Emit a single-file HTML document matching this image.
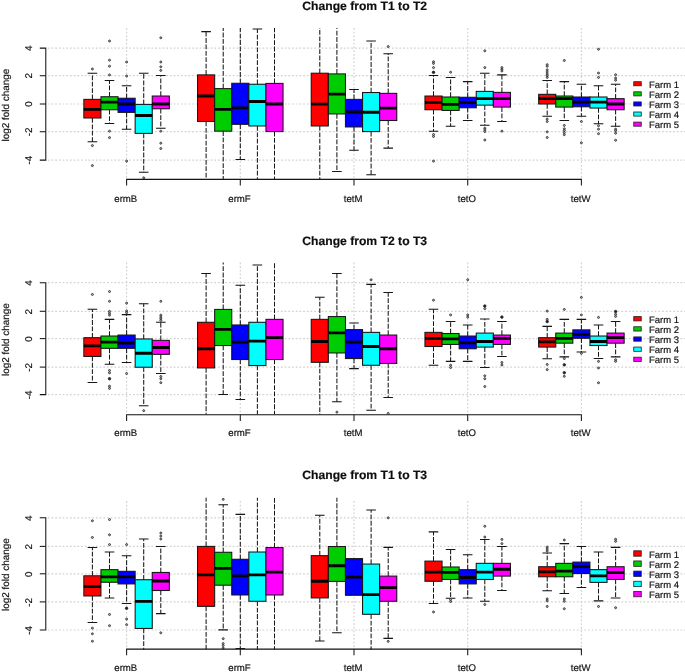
<!DOCTYPE html>
<html><head><meta charset="utf-8"><title>log2 fold change boxplots</title>
<style>
html,body{margin:0;padding:0;background:#fff;}
body{width:685px;height:672px;overflow:hidden;}
svg{display:block;will-change:transform;}
text{font-family:"Liberation Sans",sans-serif;fill:#111;stroke:#111;stroke-width:0.18px;text-rendering:geometricPrecision;}
</style></head><body>
<svg width="685" height="672" viewBox="0 0 685 672">
<rect width="685" height="672" fill="#fff"/>
<defs><filter id="soft" x="0" y="0" width="685" height="672" filterUnits="userSpaceOnUse"><feGaussianBlur stdDeviation="0.3"/></filter></defs>
<g filter="url(#soft)">
<defs><clipPath id="c0"><rect x="45.8" y="27.98" width="644.2" height="151.9"/></clipPath></defs>
<g id="panel1">
<text x="364.7" y="10.45" text-anchor="middle" font-size="12.15" font-weight="bold" stroke="none">Change from T1 to T2</text>
<g stroke="#d2d2d2" stroke-width="1.2" stroke-dasharray="1.8 1.9" fill="none">
<line x1="47.8" y1="160.1" x2="685" y2="160.1"/><line x1="47.8" y1="131.7" x2="685" y2="131.7"/><line x1="47.8" y1="104" x2="685" y2="104"/><line x1="47.8" y1="75.7" x2="685" y2="75.7"/><line x1="47.8" y1="48.1" x2="685" y2="48.1"/><line x1="126.6" y1="27.98" x2="126.6" y2="179.88"/><line x1="240.3" y1="27.98" x2="240.3" y2="179.88"/><line x1="354" y1="27.98" x2="354" y2="179.88"/><line x1="467.7" y1="27.98" x2="467.7" y2="179.88"/><line x1="581.4" y1="27.98" x2="581.4" y2="179.88"/>
</g>
<g clip-path="url(#c0)">
<line x1="92.4" y1="99.38" x2="92.4" y2="73.2" stroke="#151515" stroke-width="1.05" stroke-dasharray="4.8 1.6"/><line x1="87.61" y1="73.2" x2="97.19" y2="73.2" stroke="#151515" stroke-width="1.05"/><line x1="92.4" y1="118" x2="92.4" y2="141.8" stroke="#151515" stroke-width="1.05" stroke-dasharray="4.8 1.6"/><line x1="87.61" y1="141.8" x2="97.19" y2="141.8" stroke="#151515" stroke-width="1.05"/><rect x="83.85" y="99.38" width="17.1" height="18.62" fill="#FF0000" stroke="#151515" stroke-width="1.05"/><line x1="83.85" y1="109.46" x2="100.95" y2="109.46" stroke="#000" stroke-width="2.8"/><circle cx="92.4" cy="69" r="1.0" fill="#b4b4b4" stroke="#222" stroke-width="0.8"/><circle cx="92.4" cy="145.58" r="1.0" fill="#b4b4b4" stroke="#222" stroke-width="0.8"/><circle cx="92.4" cy="165.6" r="1.0" fill="#b4b4b4" stroke="#222" stroke-width="0.8"/>
<line x1="109.5" y1="96.72" x2="109.5" y2="80.48" stroke="#151515" stroke-width="1.05" stroke-dasharray="4.8 1.6"/><line x1="104.71" y1="80.48" x2="114.29" y2="80.48" stroke="#151515" stroke-width="1.05"/><line x1="109.5" y1="109.74" x2="109.5" y2="123.46" stroke="#151515" stroke-width="1.05" stroke-dasharray="4.8 1.6"/><line x1="104.71" y1="123.46" x2="114.29" y2="123.46" stroke="#151515" stroke-width="1.05"/><rect x="100.95" y="96.72" width="17.1" height="13.02" fill="#00CD00" stroke="#151515" stroke-width="1.05"/><line x1="100.95" y1="102.18" x2="118.05" y2="102.18" stroke="#000" stroke-width="2.8"/><circle cx="109.5" cy="41" r="1.0" fill="#b4b4b4" stroke="#222" stroke-width="0.8"/><circle cx="109.5" cy="60.18" r="1.0" fill="#b4b4b4" stroke="#222" stroke-width="0.8"/><circle cx="109.5" cy="66.2" r="1.0" fill="#b4b4b4" stroke="#222" stroke-width="0.8"/><circle cx="109.5" cy="74.88" r="1.0" fill="#b4b4b4" stroke="#222" stroke-width="0.8"/><circle cx="109.5" cy="131.16" r="1.0" fill="#b4b4b4" stroke="#222" stroke-width="0.8"/><circle cx="109.5" cy="137.6" r="1.0" fill="#b4b4b4" stroke="#222" stroke-width="0.8"/>
<line x1="126.6" y1="98.26" x2="126.6" y2="85.8" stroke="#151515" stroke-width="1.05" stroke-dasharray="4.8 1.6"/><line x1="121.81" y1="85.8" x2="131.39" y2="85.8" stroke="#151515" stroke-width="1.05"/><line x1="126.6" y1="112.4" x2="126.6" y2="129.2" stroke="#151515" stroke-width="1.05" stroke-dasharray="4.8 1.6"/><line x1="121.81" y1="129.2" x2="131.39" y2="129.2" stroke="#151515" stroke-width="1.05"/><rect x="118.05" y="98.26" width="17.1" height="14.14" fill="#0000FF" stroke="#151515" stroke-width="1.05"/><line x1="118.05" y1="104" x2="135.15" y2="104" stroke="#000" stroke-width="2.8"/><circle cx="126.6" cy="62" r="1.0" fill="#b4b4b4" stroke="#222" stroke-width="0.8"/><circle cx="126.6" cy="76" r="1.0" fill="#b4b4b4" stroke="#222" stroke-width="0.8"/><circle cx="126.6" cy="161.12" r="1.0" fill="#b4b4b4" stroke="#222" stroke-width="0.8"/>
<line x1="143.7" y1="104.42" x2="143.7" y2="73.2" stroke="#151515" stroke-width="1.05" stroke-dasharray="4.8 1.6"/><line x1="138.91" y1="73.2" x2="148.49" y2="73.2" stroke="#151515" stroke-width="1.05"/><line x1="143.7" y1="133.4" x2="143.7" y2="172.18" stroke="#151515" stroke-width="1.05" stroke-dasharray="4.8 1.6"/><line x1="138.91" y1="172.18" x2="148.49" y2="172.18" stroke="#151515" stroke-width="1.05"/><rect x="135.15" y="104.42" width="17.1" height="28.98" fill="#00FFFF" stroke="#151515" stroke-width="1.05"/><line x1="135.15" y1="115.48" x2="152.25" y2="115.48" stroke="#000" stroke-width="2.8"/><circle cx="143.7" cy="177.78" r="1.0" fill="#b4b4b4" stroke="#222" stroke-width="0.8"/>
<line x1="160.8" y1="96.02" x2="160.8" y2="75.58" stroke="#151515" stroke-width="1.05" stroke-dasharray="4.8 1.6"/><line x1="156.01" y1="75.58" x2="165.59" y2="75.58" stroke="#151515" stroke-width="1.05"/><line x1="160.8" y1="108.76" x2="160.8" y2="128.22" stroke="#151515" stroke-width="1.05" stroke-dasharray="4.8 1.6"/><line x1="156.01" y1="128.22" x2="165.59" y2="128.22" stroke="#151515" stroke-width="1.05"/><rect x="152.25" y="96.02" width="17.1" height="12.74" fill="#FF00FF" stroke="#151515" stroke-width="1.05"/><line x1="152.25" y1="104" x2="169.35" y2="104" stroke="#000" stroke-width="2.8"/><circle cx="160.8" cy="37.78" r="1.0" fill="#b4b4b4" stroke="#222" stroke-width="0.8"/><circle cx="160.8" cy="62" r="1.0" fill="#b4b4b4" stroke="#222" stroke-width="0.8"/><circle cx="160.8" cy="66.76" r="1.0" fill="#b4b4b4" stroke="#222" stroke-width="0.8"/><circle cx="160.8" cy="70.4" r="1.0" fill="#b4b4b4" stroke="#222" stroke-width="0.8"/><circle cx="160.8" cy="131.16" r="1.0" fill="#b4b4b4" stroke="#222" stroke-width="0.8"/><circle cx="160.8" cy="143.2" r="1.0" fill="#b4b4b4" stroke="#222" stroke-width="0.8"/><circle cx="160.8" cy="148.52" r="1.0" fill="#b4b4b4" stroke="#222" stroke-width="0.8"/>
<line x1="206.1" y1="74.88" x2="206.1" y2="31.62" stroke="#151515" stroke-width="1.05" stroke-dasharray="4.8 1.6"/><line x1="201.31" y1="31.62" x2="210.89" y2="31.62" stroke="#151515" stroke-width="1.05"/><line x1="206.1" y1="121.5" x2="206.1" y2="185.88" stroke="#151515" stroke-width="1.05" stroke-dasharray="4.8 1.6"/><rect x="197.55" y="74.88" width="17.1" height="46.62" fill="#FF0000" stroke="#151515" stroke-width="1.05"/><line x1="197.55" y1="96.02" x2="214.65" y2="96.02" stroke="#000" stroke-width="2.8"/>
<line x1="223.2" y1="88.6" x2="223.2" y2="21.98" stroke="#151515" stroke-width="1.05" stroke-dasharray="4.8 1.6"/><line x1="223.2" y1="131.16" x2="223.2" y2="185.88" stroke="#151515" stroke-width="1.05" stroke-dasharray="4.8 1.6"/><rect x="214.65" y="88.6" width="17.1" height="42.56" fill="#00CD00" stroke="#151515" stroke-width="1.05"/><line x1="214.65" y1="109.46" x2="231.75" y2="109.46" stroke="#000" stroke-width="2.8"/>
<line x1="240.3" y1="83.28" x2="240.3" y2="21.98" stroke="#151515" stroke-width="1.05" stroke-dasharray="4.8 1.6"/><line x1="240.3" y1="124.3" x2="240.3" y2="159.44" stroke="#151515" stroke-width="1.05" stroke-dasharray="4.8 1.6"/><line x1="235.51" y1="159.44" x2="245.09" y2="159.44" stroke="#151515" stroke-width="1.05"/><rect x="231.75" y="83.28" width="17.1" height="41.02" fill="#0000FF" stroke="#151515" stroke-width="1.05"/><line x1="231.75" y1="107.78" x2="248.85" y2="107.78" stroke="#000" stroke-width="2.8"/>
<line x1="257.4" y1="84.26" x2="257.4" y2="28.96" stroke="#151515" stroke-width="1.05" stroke-dasharray="4.8 1.6"/><line x1="252.61" y1="28.96" x2="262.19" y2="28.96" stroke="#151515" stroke-width="1.05"/><line x1="257.4" y1="125.98" x2="257.4" y2="185.88" stroke="#151515" stroke-width="1.05" stroke-dasharray="4.8 1.6"/><rect x="248.85" y="84.26" width="17.1" height="41.72" fill="#00FFFF" stroke="#151515" stroke-width="1.05"/><line x1="248.85" y1="101.48" x2="265.95" y2="101.48" stroke="#000" stroke-width="2.8"/>
<line x1="274.5" y1="83.42" x2="274.5" y2="21.98" stroke="#151515" stroke-width="1.05" stroke-dasharray="4.8 1.6"/><line x1="274.5" y1="131.58" x2="274.5" y2="185.88" stroke="#151515" stroke-width="1.05" stroke-dasharray="4.8 1.6"/><rect x="265.95" y="83.42" width="17.1" height="48.16" fill="#FF00FF" stroke="#151515" stroke-width="1.05"/><line x1="265.95" y1="104" x2="283.05" y2="104" stroke="#000" stroke-width="2.8"/>
<line x1="319.8" y1="73.2" x2="319.8" y2="21.98" stroke="#151515" stroke-width="1.05" stroke-dasharray="4.8 1.6"/><line x1="319.8" y1="125.98" x2="319.8" y2="185.88" stroke="#151515" stroke-width="1.05" stroke-dasharray="4.8 1.6"/><rect x="311.25" y="73.2" width="17.1" height="52.78" fill="#FF0000" stroke="#151515" stroke-width="1.05"/><line x1="311.25" y1="104.14" x2="328.35" y2="104.14" stroke="#000" stroke-width="2.8"/>
<line x1="336.9" y1="73.9" x2="336.9" y2="21.98" stroke="#151515" stroke-width="1.05" stroke-dasharray="4.8 1.6"/><line x1="336.9" y1="113.94" x2="336.9" y2="171.48" stroke="#151515" stroke-width="1.05" stroke-dasharray="4.8 1.6"/><line x1="332.11" y1="171.48" x2="341.69" y2="171.48" stroke="#151515" stroke-width="1.05"/><rect x="328.35" y="73.9" width="17.1" height="40.04" fill="#00CD00" stroke="#151515" stroke-width="1.05"/><line x1="328.35" y1="94.06" x2="345.45" y2="94.06" stroke="#000" stroke-width="2.8"/>
<line x1="354" y1="99.38" x2="354" y2="89.58" stroke="#151515" stroke-width="1.05" stroke-dasharray="4.8 1.6"/><line x1="349.21" y1="89.58" x2="358.79" y2="89.58" stroke="#151515" stroke-width="1.05"/><line x1="354" y1="126.96" x2="354" y2="150.2" stroke="#151515" stroke-width="1.05" stroke-dasharray="4.8 1.6"/><line x1="349.21" y1="150.2" x2="358.79" y2="150.2" stroke="#151515" stroke-width="1.05"/><rect x="345.45" y="99.38" width="17.1" height="27.58" fill="#0000FF" stroke="#151515" stroke-width="1.05"/><line x1="345.45" y1="111.98" x2="362.55" y2="111.98" stroke="#000" stroke-width="2.8"/>
<line x1="371.1" y1="92.52" x2="371.1" y2="41" stroke="#151515" stroke-width="1.05" stroke-dasharray="4.8 1.6"/><line x1="366.31" y1="41" x2="375.89" y2="41" stroke="#151515" stroke-width="1.05"/><line x1="371.1" y1="131.58" x2="371.1" y2="174.84" stroke="#151515" stroke-width="1.05" stroke-dasharray="4.8 1.6"/><line x1="366.31" y1="174.84" x2="375.89" y2="174.84" stroke="#151515" stroke-width="1.05"/><rect x="362.55" y="92.52" width="17.1" height="39.06" fill="#00FFFF" stroke="#151515" stroke-width="1.05"/><line x1="362.55" y1="112.26" x2="379.65" y2="112.26" stroke="#000" stroke-width="2.8"/>
<line x1="388.2" y1="93.36" x2="388.2" y2="53.74" stroke="#151515" stroke-width="1.05" stroke-dasharray="4.8 1.6"/><line x1="383.41" y1="53.74" x2="392.99" y2="53.74" stroke="#151515" stroke-width="1.05"/><line x1="388.2" y1="120.52" x2="388.2" y2="148.1" stroke="#151515" stroke-width="1.05" stroke-dasharray="4.8 1.6"/><line x1="383.41" y1="148.1" x2="392.99" y2="148.1" stroke="#151515" stroke-width="1.05"/><rect x="379.65" y="93.36" width="17.1" height="27.16" fill="#FF00FF" stroke="#151515" stroke-width="1.05"/><line x1="379.65" y1="108.06" x2="396.75" y2="108.06" stroke="#000" stroke-width="2.8"/><circle cx="388.2" cy="46.6" r="1.0" fill="#b4b4b4" stroke="#222" stroke-width="0.8"/>
<line x1="433.5" y1="96.02" x2="433.5" y2="75.58" stroke="#151515" stroke-width="1.05" stroke-dasharray="4.8 1.6"/><line x1="428.71" y1="75.58" x2="438.29" y2="75.58" stroke="#151515" stroke-width="1.05"/><line x1="433.5" y1="109.74" x2="433.5" y2="131.16" stroke="#151515" stroke-width="1.05" stroke-dasharray="4.8 1.6"/><line x1="428.71" y1="131.16" x2="438.29" y2="131.16" stroke="#151515" stroke-width="1.05"/><rect x="424.95" y="96.02" width="17.1" height="13.72" fill="#FF0000" stroke="#151515" stroke-width="1.05"/><line x1="424.95" y1="102.46" x2="442.05" y2="102.46" stroke="#000" stroke-width="2.8"/><circle cx="433.5" cy="61.72" r="1.0" fill="#b4b4b4" stroke="#222" stroke-width="0.8"/><circle cx="433.5" cy="63.4" r="1.0" fill="#b4b4b4" stroke="#222" stroke-width="0.8"/><circle cx="433.5" cy="67.6" r="1.0" fill="#b4b4b4" stroke="#222" stroke-width="0.8"/><circle cx="433.5" cy="72.36" r="1.25" fill="#222" stroke="#222" stroke-width="0.8"/><circle cx="433.5" cy="134.52" r="1.0" fill="#b4b4b4" stroke="#222" stroke-width="0.8"/><circle cx="433.5" cy="136.48" r="1.0" fill="#b4b4b4" stroke="#222" stroke-width="0.8"/><circle cx="433.5" cy="161.12" r="1.0" fill="#b4b4b4" stroke="#222" stroke-width="0.8"/>
<line x1="450.6" y1="97" x2="450.6" y2="77.4" stroke="#151515" stroke-width="1.05" stroke-dasharray="4.8 1.6"/><line x1="445.81" y1="77.4" x2="455.39" y2="77.4" stroke="#151515" stroke-width="1.05"/><line x1="450.6" y1="110.44" x2="450.6" y2="126.26" stroke="#151515" stroke-width="1.05" stroke-dasharray="4.8 1.6"/><line x1="445.81" y1="126.26" x2="455.39" y2="126.26" stroke="#151515" stroke-width="1.05"/><rect x="442.05" y="97" width="17.1" height="13.44" fill="#00CD00" stroke="#151515" stroke-width="1.05"/><line x1="442.05" y1="104.42" x2="459.15" y2="104.42" stroke="#000" stroke-width="2.8"/><circle cx="450.6" cy="72.22" r="1.0" fill="#b4b4b4" stroke="#222" stroke-width="0.8"/>
<line x1="467.7" y1="97.28" x2="467.7" y2="81.6" stroke="#151515" stroke-width="1.05" stroke-dasharray="4.8 1.6"/><line x1="462.91" y1="81.6" x2="472.49" y2="81.6" stroke="#151515" stroke-width="1.05"/><line x1="467.7" y1="107.78" x2="467.7" y2="120.52" stroke="#151515" stroke-width="1.05" stroke-dasharray="4.8 1.6"/><line x1="462.91" y1="120.52" x2="472.49" y2="120.52" stroke="#151515" stroke-width="1.05"/><rect x="459.15" y="97.28" width="17.1" height="10.5" fill="#0000FF" stroke="#151515" stroke-width="1.05"/><line x1="459.15" y1="102.46" x2="476.25" y2="102.46" stroke="#000" stroke-width="2.8"/>
<line x1="484.8" y1="91.4" x2="484.8" y2="73.2" stroke="#151515" stroke-width="1.05" stroke-dasharray="4.8 1.6"/><line x1="480.01" y1="73.2" x2="489.59" y2="73.2" stroke="#151515" stroke-width="1.05"/><line x1="484.8" y1="105.12" x2="484.8" y2="125.28" stroke="#151515" stroke-width="1.05" stroke-dasharray="4.8 1.6"/><line x1="480.01" y1="125.28" x2="489.59" y2="125.28" stroke="#151515" stroke-width="1.05"/><rect x="476.25" y="91.4" width="17.1" height="13.72" fill="#00FFFF" stroke="#151515" stroke-width="1.05"/><line x1="476.25" y1="98.68" x2="493.35" y2="98.68" stroke="#000" stroke-width="2.8"/><circle cx="484.8" cy="50.8" r="1.0" fill="#b4b4b4" stroke="#222" stroke-width="0.8"/><circle cx="484.8" cy="67.6" r="1.0" fill="#b4b4b4" stroke="#222" stroke-width="0.8"/><circle cx="484.8" cy="128.22" r="1.0" fill="#b4b4b4" stroke="#222" stroke-width="0.8"/><circle cx="484.8" cy="129.9" r="1.0" fill="#b4b4b4" stroke="#222" stroke-width="0.8"/><circle cx="484.8" cy="131.58" r="1.0" fill="#b4b4b4" stroke="#222" stroke-width="0.8"/><circle cx="484.8" cy="139.98" r="1.0" fill="#b4b4b4" stroke="#222" stroke-width="0.8"/>
<line x1="501.9" y1="92.38" x2="501.9" y2="74.88" stroke="#151515" stroke-width="1.05" stroke-dasharray="4.8 1.6"/><line x1="497.11" y1="74.88" x2="506.69" y2="74.88" stroke="#151515" stroke-width="1.05"/><line x1="501.9" y1="107.08" x2="501.9" y2="121.5" stroke="#151515" stroke-width="1.05" stroke-dasharray="4.8 1.6"/><line x1="497.11" y1="121.5" x2="506.69" y2="121.5" stroke="#151515" stroke-width="1.05"/><rect x="493.35" y="92.38" width="17.1" height="14.7" fill="#FF00FF" stroke="#151515" stroke-width="1.05"/><line x1="493.35" y1="98.68" x2="510.45" y2="98.68" stroke="#000" stroke-width="2.8"/><circle cx="501.9" cy="67.6" r="1.0" fill="#b4b4b4" stroke="#222" stroke-width="0.8"/><circle cx="501.9" cy="69.28" r="1.0" fill="#b4b4b4" stroke="#222" stroke-width="0.8"/><circle cx="501.9" cy="70.96" r="1.0" fill="#b4b4b4" stroke="#222" stroke-width="0.8"/><circle cx="501.9" cy="131.16" r="1.0" fill="#b4b4b4" stroke="#222" stroke-width="0.8"/>
<line x1="547.2" y1="94.34" x2="547.2" y2="80.48" stroke="#151515" stroke-width="1.05" stroke-dasharray="4.8 1.6"/><line x1="542.41" y1="80.48" x2="551.99" y2="80.48" stroke="#151515" stroke-width="1.05"/><line x1="547.2" y1="104" x2="547.2" y2="116.18" stroke="#151515" stroke-width="1.05" stroke-dasharray="4.8 1.6"/><line x1="542.41" y1="116.18" x2="551.99" y2="116.18" stroke="#151515" stroke-width="1.05"/><rect x="538.65" y="94.34" width="17.1" height="9.66" fill="#FF0000" stroke="#151515" stroke-width="1.05"/><line x1="538.65" y1="98.68" x2="555.75" y2="98.68" stroke="#000" stroke-width="2.8"/><circle cx="547.2" cy="64.66" r="1.0" fill="#b4b4b4" stroke="#222" stroke-width="0.8"/><circle cx="547.2" cy="66.34" r="1.0" fill="#b4b4b4" stroke="#222" stroke-width="0.8"/><circle cx="547.2" cy="69.84" r="1.0" fill="#b4b4b4" stroke="#222" stroke-width="0.8"/><circle cx="547.2" cy="71.94" r="1.0" fill="#b4b4b4" stroke="#222" stroke-width="0.8"/><circle cx="547.2" cy="74.04" r="1.0" fill="#b4b4b4" stroke="#222" stroke-width="0.8"/><circle cx="547.2" cy="75.72" r="1.0" fill="#b4b4b4" stroke="#222" stroke-width="0.8"/><circle cx="547.2" cy="77.4" r="1.0" fill="#b4b4b4" stroke="#222" stroke-width="0.8"/><circle cx="547.2" cy="119.12" r="1.0" fill="#b4b4b4" stroke="#222" stroke-width="0.8"/><circle cx="547.2" cy="121.5" r="1.0" fill="#b4b4b4" stroke="#222" stroke-width="0.8"/><circle cx="547.2" cy="131.86" r="1.0" fill="#b4b4b4" stroke="#222" stroke-width="0.8"/><circle cx="547.2" cy="137.46" r="1.0" fill="#b4b4b4" stroke="#222" stroke-width="0.8"/>
<line x1="564.3" y1="96.02" x2="564.3" y2="81.6" stroke="#151515" stroke-width="1.05" stroke-dasharray="4.8 1.6"/><line x1="559.51" y1="81.6" x2="569.09" y2="81.6" stroke="#151515" stroke-width="1.05"/><line x1="564.3" y1="107.08" x2="564.3" y2="120.52" stroke="#151515" stroke-width="1.05" stroke-dasharray="4.8 1.6"/><line x1="559.51" y1="120.52" x2="569.09" y2="120.52" stroke="#151515" stroke-width="1.05"/><rect x="555.75" y="96.02" width="17.1" height="11.06" fill="#00CD00" stroke="#151515" stroke-width="1.05"/><line x1="555.75" y1="98.68" x2="572.85" y2="98.68" stroke="#000" stroke-width="2.8"/><circle cx="564.3" cy="60.46" r="1.0" fill="#b4b4b4" stroke="#222" stroke-width="0.8"/><circle cx="564.3" cy="125.42" r="1.0" fill="#b4b4b4" stroke="#222" stroke-width="0.8"/><circle cx="564.3" cy="128.78" r="1.0" fill="#b4b4b4" stroke="#222" stroke-width="0.8"/><circle cx="564.3" cy="130.46" r="1.0" fill="#b4b4b4" stroke="#222" stroke-width="0.8"/><circle cx="564.3" cy="132.56" r="1.0" fill="#b4b4b4" stroke="#222" stroke-width="0.8"/><circle cx="564.3" cy="134.66" r="1.0" fill="#b4b4b4" stroke="#222" stroke-width="0.8"/>
<line x1="581.4" y1="97" x2="581.4" y2="84.26" stroke="#151515" stroke-width="1.05" stroke-dasharray="4.8 1.6"/><line x1="576.61" y1="84.26" x2="586.19" y2="84.26" stroke="#151515" stroke-width="1.05"/><line x1="581.4" y1="106.8" x2="581.4" y2="116.18" stroke="#151515" stroke-width="1.05" stroke-dasharray="4.8 1.6"/><line x1="576.61" y1="116.18" x2="586.19" y2="116.18" stroke="#151515" stroke-width="1.05"/><rect x="572.85" y="97" width="17.1" height="9.8" fill="#0000FF" stroke="#151515" stroke-width="1.05"/><line x1="572.85" y1="102.18" x2="589.95" y2="102.18" stroke="#000" stroke-width="2.8"/><circle cx="581.4" cy="121.5" r="1.0" fill="#b4b4b4" stroke="#222" stroke-width="0.8"/><circle cx="581.4" cy="142.78" r="1.0" fill="#b4b4b4" stroke="#222" stroke-width="0.8"/>
<line x1="598.5" y1="97" x2="598.5" y2="85.8" stroke="#151515" stroke-width="1.05" stroke-dasharray="4.8 1.6"/><line x1="593.71" y1="85.8" x2="603.29" y2="85.8" stroke="#151515" stroke-width="1.05"/><line x1="598.5" y1="108.06" x2="598.5" y2="123.74" stroke="#151515" stroke-width="1.05" stroke-dasharray="4.8 1.6"/><line x1="593.71" y1="123.74" x2="603.29" y2="123.74" stroke="#151515" stroke-width="1.05"/><rect x="589.95" y="97" width="17.1" height="11.06" fill="#00FFFF" stroke="#151515" stroke-width="1.05"/><line x1="589.95" y1="102.18" x2="607.05" y2="102.18" stroke="#000" stroke-width="2.8"/><circle cx="598.5" cy="49.26" r="1.0" fill="#b4b4b4" stroke="#222" stroke-width="0.8"/><circle cx="598.5" cy="73.06" r="1.0" fill="#b4b4b4" stroke="#222" stroke-width="0.8"/><circle cx="598.5" cy="77.4" r="1.0" fill="#b4b4b4" stroke="#222" stroke-width="0.8"/><circle cx="598.5" cy="125.7" r="1.0" fill="#b4b4b4" stroke="#222" stroke-width="0.8"/><circle cx="598.5" cy="129.2" r="1.0" fill="#b4b4b4" stroke="#222" stroke-width="0.8"/><circle cx="598.5" cy="133.68" r="1.0" fill="#b4b4b4" stroke="#222" stroke-width="0.8"/>
<line x1="615.6" y1="98.68" x2="615.6" y2="84.26" stroke="#151515" stroke-width="1.05" stroke-dasharray="4.8 1.6"/><line x1="610.81" y1="84.26" x2="620.39" y2="84.26" stroke="#151515" stroke-width="1.05"/><line x1="615.6" y1="109.74" x2="615.6" y2="126.26" stroke="#151515" stroke-width="1.05" stroke-dasharray="4.8 1.6"/><line x1="610.81" y1="126.26" x2="620.39" y2="126.26" stroke="#151515" stroke-width="1.05"/><rect x="607.05" y="98.68" width="17.1" height="11.06" fill="#FF00FF" stroke="#151515" stroke-width="1.05"/><line x1="607.05" y1="104" x2="624.15" y2="104" stroke="#000" stroke-width="2.8"/><circle cx="615.6" cy="74.74" r="1.0" fill="#b4b4b4" stroke="#222" stroke-width="0.8"/><circle cx="615.6" cy="78.1" r="1.0" fill="#b4b4b4" stroke="#222" stroke-width="0.8"/><circle cx="615.6" cy="80.2" r="1.0" fill="#b4b4b4" stroke="#222" stroke-width="0.8"/><circle cx="615.6" cy="129.2" r="1.0" fill="#b4b4b4" stroke="#222" stroke-width="0.8"/><circle cx="615.6" cy="130.74" r="1.0" fill="#b4b4b4" stroke="#222" stroke-width="0.8"/><circle cx="615.6" cy="133.26" r="1.0" fill="#b4b4b4" stroke="#222" stroke-width="0.8"/><circle cx="615.6" cy="140.26" r="1.0" fill="#b4b4b4" stroke="#222" stroke-width="0.8"/>
</g>
<g stroke="#151515" stroke-width="1.05" fill="none">
<path d="M39.8 48.1 H45.8 V160.1 H39.8"/><line x1="39.8" y1="131.7" x2="45.8" y2="131.7"/><line x1="39.8" y1="104" x2="45.8" y2="104"/><line x1="39.8" y1="75.7" x2="45.8" y2="75.7"/><path d="M126.6 185.55 V179.35 H581.4 V185.55"/><line x1="240.3" y1="179.35" x2="240.3" y2="185.55"/><line x1="354" y1="179.35" x2="354" y2="185.55"/><line x1="467.7" y1="179.35" x2="467.7" y2="185.55"/>
</g>
<text transform="translate(31.6 160.2) rotate(-90)" text-anchor="middle" font-size="9.8">-4</text><text transform="translate(31.6 131.8) rotate(-90)" text-anchor="middle" font-size="9.8">-2</text><text transform="translate(31.6 104.1) rotate(-90)" text-anchor="middle" font-size="9.8">0</text><text transform="translate(31.6 75.8) rotate(-90)" text-anchor="middle" font-size="9.8">2</text><text transform="translate(31.6 48.2) rotate(-90)" text-anchor="middle" font-size="9.8">4</text>
<text transform="translate(8.9 105.1) rotate(-90)" text-anchor="middle" font-size="9.93">log2 fold change</text>
<text x="125.8" y="201.6" text-anchor="middle" font-size="9.6">ermB</text><text x="239.5" y="201.6" text-anchor="middle" font-size="9.6">ermF</text><text x="353.2" y="201.6" text-anchor="middle" font-size="9.6">tetM</text><text x="466.9" y="201.6" text-anchor="middle" font-size="9.6">tetO</text><text x="580.6" y="201.6" text-anchor="middle" font-size="9.6">tetW</text>
<rect x="633.75" y="81.7" width="7.5" height="4.1" fill="#FF0000" stroke="#222" stroke-width="0.8"/><text x="649.0" y="87.85" font-size="9.5">Farm 1</text><rect x="633.75" y="91.8" width="7.5" height="4.1" fill="#00CD00" stroke="#222" stroke-width="0.8"/><text x="649.0" y="97.97" font-size="9.5">Farm 2</text><rect x="633.75" y="101.9" width="7.5" height="4.1" fill="#0000FF" stroke="#222" stroke-width="0.8"/><text x="649.0" y="108.09" font-size="9.5">Farm 3</text><rect x="633.75" y="112" width="7.5" height="4.1" fill="#00FFFF" stroke="#222" stroke-width="0.8"/><text x="649.0" y="118.21" font-size="9.5">Farm 4</text><rect x="633.75" y="122.1" width="7.5" height="4.1" fill="#FF00FF" stroke="#222" stroke-width="0.8"/><text x="649.0" y="128.33" font-size="9.5">Farm 5</text>
</g>
<defs><clipPath id="c1"><rect x="45.8" y="262.38" width="644.2" height="151.9"/></clipPath></defs>
<g id="panel2">
<text x="364.7" y="245" text-anchor="middle" font-size="12.15" font-weight="bold" stroke="none">Change from T2 to T3</text>
<g stroke="#d2d2d2" stroke-width="1.2" stroke-dasharray="1.8 1.9" fill="none">
<line x1="47.8" y1="394.6" x2="685" y2="394.6"/><line x1="47.8" y1="367.1" x2="685" y2="367.1"/><line x1="47.8" y1="338.6" x2="685" y2="338.6"/><line x1="47.8" y1="311.3" x2="685" y2="311.3"/><line x1="47.8" y1="282.7" x2="685" y2="282.7"/><line x1="126.6" y1="262.38" x2="126.6" y2="414.28"/><line x1="240.3" y1="262.38" x2="240.3" y2="414.28"/><line x1="354" y1="262.38" x2="354" y2="414.28"/><line x1="467.7" y1="262.38" x2="467.7" y2="414.28"/><line x1="581.4" y1="262.38" x2="581.4" y2="414.28"/>
</g>
<g clip-path="url(#c1)">
<line x1="92.4" y1="337.7" x2="92.4" y2="309.28" stroke="#151515" stroke-width="1.05" stroke-dasharray="4.8 1.6"/><line x1="87.61" y1="309.28" x2="97.19" y2="309.28" stroke="#151515" stroke-width="1.05"/><line x1="92.4" y1="356.46" x2="92.4" y2="382.5" stroke="#151515" stroke-width="1.05" stroke-dasharray="4.8 1.6"/><line x1="87.61" y1="382.5" x2="97.19" y2="382.5" stroke="#151515" stroke-width="1.05"/><rect x="83.85" y="337.7" width="17.1" height="18.76" fill="#FF0000" stroke="#151515" stroke-width="1.05"/><line x1="83.85" y1="345.82" x2="100.95" y2="345.82" stroke="#000" stroke-width="2.8"/><circle cx="92.4" cy="294.44" r="1.0" fill="#b4b4b4" stroke="#222" stroke-width="0.8"/>
<line x1="109.5" y1="336.02" x2="109.5" y2="319.36" stroke="#151515" stroke-width="1.05" stroke-dasharray="4.8 1.6"/><line x1="104.71" y1="319.36" x2="114.29" y2="319.36" stroke="#151515" stroke-width="1.05"/><line x1="109.5" y1="348.34" x2="109.5" y2="364.3" stroke="#151515" stroke-width="1.05" stroke-dasharray="4.8 1.6"/><line x1="104.71" y1="364.3" x2="114.29" y2="364.3" stroke="#151515" stroke-width="1.05"/><rect x="100.95" y="336.02" width="17.1" height="12.32" fill="#00CD00" stroke="#151515" stroke-width="1.05"/><line x1="100.95" y1="342.18" x2="118.05" y2="342.18" stroke="#000" stroke-width="2.8"/><circle cx="109.5" cy="291.5" r="1.0" fill="#b4b4b4" stroke="#222" stroke-width="0.8"/><circle cx="109.5" cy="301.3" r="1.0" fill="#b4b4b4" stroke="#222" stroke-width="0.8"/><circle cx="109.5" cy="311.38" r="1.0" fill="#b4b4b4" stroke="#222" stroke-width="0.8"/><circle cx="109.5" cy="313.34" r="1.0" fill="#b4b4b4" stroke="#222" stroke-width="0.8"/><circle cx="109.5" cy="315.16" r="1.0" fill="#b4b4b4" stroke="#222" stroke-width="0.8"/><circle cx="109.5" cy="370.46" r="1.0" fill="#b4b4b4" stroke="#222" stroke-width="0.8"/><circle cx="109.5" cy="372.84" r="1.0" fill="#b4b4b4" stroke="#222" stroke-width="0.8"/><circle cx="109.5" cy="378.72" r="1.25" fill="#222" stroke="#222" stroke-width="0.8"/><circle cx="109.5" cy="386.14" r="1.0" fill="#b4b4b4" stroke="#222" stroke-width="0.8"/><circle cx="109.5" cy="388.38" r="1.0" fill="#b4b4b4" stroke="#222" stroke-width="0.8"/>
<line x1="126.6" y1="335.04" x2="126.6" y2="314.6" stroke="#151515" stroke-width="1.05" stroke-dasharray="4.8 1.6"/><line x1="121.81" y1="314.6" x2="131.39" y2="314.6" stroke="#151515" stroke-width="1.05"/><line x1="126.6" y1="348.34" x2="126.6" y2="362.48" stroke="#151515" stroke-width="1.05" stroke-dasharray="4.8 1.6"/><line x1="121.81" y1="362.48" x2="131.39" y2="362.48" stroke="#151515" stroke-width="1.05"/><rect x="118.05" y="335.04" width="17.1" height="13.3" fill="#0000FF" stroke="#151515" stroke-width="1.05"/><line x1="118.05" y1="343.16" x2="135.15" y2="343.16" stroke="#000" stroke-width="2.8"/><circle cx="126.6" cy="303.12" r="1.0" fill="#b4b4b4" stroke="#222" stroke-width="0.8"/><circle cx="126.6" cy="310.96" r="1.0" fill="#b4b4b4" stroke="#222" stroke-width="0.8"/><circle cx="126.6" cy="312.64" r="1.0" fill="#b4b4b4" stroke="#222" stroke-width="0.8"/><circle cx="126.6" cy="373.54" r="1.0" fill="#b4b4b4" stroke="#222" stroke-width="0.8"/>
<line x1="143.7" y1="338.96" x2="143.7" y2="303.82" stroke="#151515" stroke-width="1.05" stroke-dasharray="4.8 1.6"/><line x1="138.91" y1="303.82" x2="148.49" y2="303.82" stroke="#151515" stroke-width="1.05"/><line x1="143.7" y1="367.24" x2="143.7" y2="405.74" stroke="#151515" stroke-width="1.05" stroke-dasharray="4.8 1.6"/><line x1="138.91" y1="405.74" x2="148.49" y2="405.74" stroke="#151515" stroke-width="1.05"/><rect x="135.15" y="338.96" width="17.1" height="28.28" fill="#00FFFF" stroke="#151515" stroke-width="1.05"/><line x1="135.15" y1="353.24" x2="152.25" y2="353.24" stroke="#000" stroke-width="2.8"/><circle cx="143.7" cy="410.64" r="1.0" fill="#b4b4b4" stroke="#222" stroke-width="0.8"/>
<line x1="160.8" y1="340.36" x2="160.8" y2="322.3" stroke="#151515" stroke-width="1.05" stroke-dasharray="4.8 1.6"/><line x1="156.01" y1="322.3" x2="165.59" y2="322.3" stroke="#151515" stroke-width="1.05"/><line x1="160.8" y1="354.36" x2="160.8" y2="373.54" stroke="#151515" stroke-width="1.05" stroke-dasharray="4.8 1.6"/><line x1="156.01" y1="373.54" x2="165.59" y2="373.54" stroke="#151515" stroke-width="1.05"/><rect x="152.25" y="340.36" width="17.1" height="14" fill="#FF00FF" stroke="#151515" stroke-width="1.05"/><line x1="152.25" y1="347.5" x2="169.35" y2="347.5" stroke="#000" stroke-width="2.8"/><circle cx="160.8" cy="301.3" r="1.0" fill="#b4b4b4" stroke="#222" stroke-width="0.8"/><circle cx="160.8" cy="315.16" r="1.0" fill="#b4b4b4" stroke="#222" stroke-width="0.8"/><circle cx="160.8" cy="317.12" r="1.0" fill="#b4b4b4" stroke="#222" stroke-width="0.8"/><circle cx="160.8" cy="318.8" r="1.0" fill="#b4b4b4" stroke="#222" stroke-width="0.8"/><circle cx="160.8" cy="320.48" r="1.0" fill="#b4b4b4" stroke="#222" stroke-width="0.8"/><circle cx="160.8" cy="376.48" r="1.0" fill="#b4b4b4" stroke="#222" stroke-width="0.8"/><circle cx="160.8" cy="378.72" r="1.0" fill="#b4b4b4" stroke="#222" stroke-width="0.8"/><circle cx="160.8" cy="382.64" r="1.0" fill="#b4b4b4" stroke="#222" stroke-width="0.8"/>
<line x1="206.1" y1="322.3" x2="206.1" y2="273.58" stroke="#151515" stroke-width="1.05" stroke-dasharray="4.8 1.6"/><line x1="201.31" y1="273.58" x2="210.89" y2="273.58" stroke="#151515" stroke-width="1.05"/><line x1="206.1" y1="367.94" x2="206.1" y2="420.28" stroke="#151515" stroke-width="1.05" stroke-dasharray="4.8 1.6"/><rect x="197.55" y="322.3" width="17.1" height="45.64" fill="#FF0000" stroke="#151515" stroke-width="1.05"/><line x1="197.55" y1="348.76" x2="214.65" y2="348.76" stroke="#000" stroke-width="2.8"/>
<line x1="223.2" y1="309.42" x2="223.2" y2="256.38" stroke="#151515" stroke-width="1.05" stroke-dasharray="4.8 1.6"/><line x1="223.2" y1="345.54" x2="223.2" y2="394.4" stroke="#151515" stroke-width="1.05" stroke-dasharray="4.8 1.6"/><line x1="218.41" y1="394.4" x2="227.99" y2="394.4" stroke="#151515" stroke-width="1.05"/><rect x="214.65" y="309.42" width="17.1" height="36.12" fill="#00CD00" stroke="#151515" stroke-width="1.05"/><line x1="214.65" y1="329.44" x2="231.75" y2="329.44" stroke="#000" stroke-width="2.8"/>
<line x1="240.3" y1="324.96" x2="240.3" y2="285.2" stroke="#151515" stroke-width="1.05" stroke-dasharray="4.8 1.6"/><line x1="235.51" y1="285.2" x2="245.09" y2="285.2" stroke="#151515" stroke-width="1.05"/><line x1="240.3" y1="359.54" x2="240.3" y2="399.44" stroke="#151515" stroke-width="1.05" stroke-dasharray="4.8 1.6"/><line x1="235.51" y1="399.44" x2="245.09" y2="399.44" stroke="#151515" stroke-width="1.05"/><rect x="231.75" y="324.96" width="17.1" height="34.58" fill="#0000FF" stroke="#151515" stroke-width="1.05"/><line x1="231.75" y1="342.18" x2="248.85" y2="342.18" stroke="#000" stroke-width="2.8"/>
<line x1="257.4" y1="322.3" x2="257.4" y2="265.04" stroke="#151515" stroke-width="1.05" stroke-dasharray="4.8 1.6"/><line x1="252.61" y1="265.04" x2="262.19" y2="265.04" stroke="#151515" stroke-width="1.05"/><line x1="257.4" y1="365.56" x2="257.4" y2="420.28" stroke="#151515" stroke-width="1.05" stroke-dasharray="4.8 1.6"/><rect x="248.85" y="322.3" width="17.1" height="43.26" fill="#00FFFF" stroke="#151515" stroke-width="1.05"/><line x1="248.85" y1="341.2" x2="265.95" y2="341.2" stroke="#000" stroke-width="2.8"/>
<line x1="274.5" y1="319.36" x2="274.5" y2="256.38" stroke="#151515" stroke-width="1.05" stroke-dasharray="4.8 1.6"/><line x1="274.5" y1="359.54" x2="274.5" y2="420.28" stroke="#151515" stroke-width="1.05" stroke-dasharray="4.8 1.6"/><rect x="265.95" y="319.36" width="17.1" height="40.18" fill="#FF00FF" stroke="#151515" stroke-width="1.05"/><line x1="265.95" y1="337.7" x2="283.05" y2="337.7" stroke="#000" stroke-width="2.8"/>
<line x1="319.8" y1="319.36" x2="319.8" y2="297.24" stroke="#151515" stroke-width="1.05" stroke-dasharray="4.8 1.6"/><line x1="315.01" y1="297.24" x2="324.59" y2="297.24" stroke="#151515" stroke-width="1.05"/><line x1="319.8" y1="362.34" x2="319.8" y2="420.28" stroke="#151515" stroke-width="1.05" stroke-dasharray="4.8 1.6"/><rect x="311.25" y="319.36" width="17.1" height="42.98" fill="#FF0000" stroke="#151515" stroke-width="1.05"/><line x1="311.25" y1="341.48" x2="328.35" y2="341.48" stroke="#000" stroke-width="2.8"/>
<line x1="336.9" y1="316.56" x2="336.9" y2="273.58" stroke="#151515" stroke-width="1.05" stroke-dasharray="4.8 1.6"/><line x1="332.11" y1="273.58" x2="341.69" y2="273.58" stroke="#151515" stroke-width="1.05"/><line x1="336.9" y1="352.96" x2="336.9" y2="401.82" stroke="#151515" stroke-width="1.05" stroke-dasharray="4.8 1.6"/><line x1="332.11" y1="401.82" x2="341.69" y2="401.82" stroke="#151515" stroke-width="1.05"/><rect x="328.35" y="316.56" width="17.1" height="36.4" fill="#00CD00" stroke="#151515" stroke-width="1.05"/><line x1="328.35" y1="332.8" x2="345.45" y2="332.8" stroke="#000" stroke-width="2.8"/><circle cx="336.9" cy="412.18" r="1.0" fill="#b4b4b4" stroke="#222" stroke-width="0.8"/>
<line x1="354" y1="329.58" x2="354" y2="323" stroke="#151515" stroke-width="1.05" stroke-dasharray="4.8 1.6"/><line x1="349.21" y1="323" x2="358.79" y2="323" stroke="#151515" stroke-width="1.05"/><line x1="354" y1="358.56" x2="354" y2="368.64" stroke="#151515" stroke-width="1.05" stroke-dasharray="4.8 1.6"/><line x1="349.21" y1="368.64" x2="358.79" y2="368.64" stroke="#151515" stroke-width="1.05"/><rect x="345.45" y="329.58" width="17.1" height="28.98" fill="#0000FF" stroke="#151515" stroke-width="1.05"/><line x1="345.45" y1="342.18" x2="362.55" y2="342.18" stroke="#000" stroke-width="2.8"/>
<line x1="371.1" y1="332.38" x2="371.1" y2="284.36" stroke="#151515" stroke-width="1.05" stroke-dasharray="4.8 1.6"/><line x1="366.31" y1="284.36" x2="375.89" y2="284.36" stroke="#151515" stroke-width="1.05"/><line x1="371.1" y1="365.28" x2="371.1" y2="410.22" stroke="#151515" stroke-width="1.05" stroke-dasharray="4.8 1.6"/><line x1="366.31" y1="410.22" x2="375.89" y2="410.22" stroke="#151515" stroke-width="1.05"/><rect x="362.55" y="332.38" width="17.1" height="32.9" fill="#00FFFF" stroke="#151515" stroke-width="1.05"/><line x1="362.55" y1="346.52" x2="379.65" y2="346.52" stroke="#000" stroke-width="2.8"/><circle cx="371.1" cy="279.74" r="1.0" fill="#b4b4b4" stroke="#222" stroke-width="0.8"/>
<line x1="388.2" y1="335.04" x2="388.2" y2="292.48" stroke="#151515" stroke-width="1.05" stroke-dasharray="4.8 1.6"/><line x1="383.41" y1="292.48" x2="392.99" y2="292.48" stroke="#151515" stroke-width="1.05"/><line x1="388.2" y1="363.46" x2="388.2" y2="397.48" stroke="#151515" stroke-width="1.05" stroke-dasharray="4.8 1.6"/><line x1="383.41" y1="397.48" x2="392.99" y2="397.48" stroke="#151515" stroke-width="1.05"/><rect x="379.65" y="335.04" width="17.1" height="28.42" fill="#FF00FF" stroke="#151515" stroke-width="1.05"/><line x1="379.65" y1="348.76" x2="396.75" y2="348.76" stroke="#000" stroke-width="2.8"/><circle cx="388.2" cy="413.44" r="1.0" fill="#b4b4b4" stroke="#222" stroke-width="0.8"/>
<line x1="433.5" y1="332.38" x2="433.5" y2="309.28" stroke="#151515" stroke-width="1.05" stroke-dasharray="4.8 1.6"/><line x1="428.71" y1="309.28" x2="438.29" y2="309.28" stroke="#151515" stroke-width="1.05"/><line x1="433.5" y1="346.52" x2="433.5" y2="365.28" stroke="#151515" stroke-width="1.05" stroke-dasharray="4.8 1.6"/><line x1="428.71" y1="365.28" x2="438.29" y2="365.28" stroke="#151515" stroke-width="1.05"/><rect x="424.95" y="332.38" width="17.1" height="14.14" fill="#FF0000" stroke="#151515" stroke-width="1.05"/><line x1="424.95" y1="338.4" x2="442.05" y2="338.4" stroke="#000" stroke-width="2.8"/><circle cx="433.5" cy="300.18" r="1.0" fill="#b4b4b4" stroke="#222" stroke-width="0.8"/>
<line x1="450.6" y1="333.5" x2="450.6" y2="321.46" stroke="#151515" stroke-width="1.05" stroke-dasharray="4.8 1.6"/><line x1="445.81" y1="321.46" x2="455.39" y2="321.46" stroke="#151515" stroke-width="1.05"/><line x1="450.6" y1="344.42" x2="450.6" y2="361.36" stroke="#151515" stroke-width="1.05" stroke-dasharray="4.8 1.6"/><line x1="445.81" y1="361.36" x2="455.39" y2="361.36" stroke="#151515" stroke-width="1.05"/><rect x="442.05" y="333.5" width="17.1" height="10.92" fill="#00CD00" stroke="#151515" stroke-width="1.05"/><line x1="442.05" y1="338.96" x2="459.15" y2="338.96" stroke="#000" stroke-width="2.8"/><circle cx="450.6" cy="314.88" r="1.0" fill="#b4b4b4" stroke="#222" stroke-width="0.8"/><circle cx="450.6" cy="365.28" r="1.0" fill="#b4b4b4" stroke="#222" stroke-width="0.8"/><circle cx="450.6" cy="367.52" r="1.0" fill="#b4b4b4" stroke="#222" stroke-width="0.8"/>
<line x1="467.7" y1="336.02" x2="467.7" y2="324.96" stroke="#151515" stroke-width="1.05" stroke-dasharray="4.8 1.6"/><line x1="462.91" y1="324.96" x2="472.49" y2="324.96" stroke="#151515" stroke-width="1.05"/><line x1="467.7" y1="348.76" x2="467.7" y2="361.36" stroke="#151515" stroke-width="1.05" stroke-dasharray="4.8 1.6"/><line x1="462.91" y1="361.36" x2="472.49" y2="361.36" stroke="#151515" stroke-width="1.05"/><rect x="459.15" y="336.02" width="17.1" height="12.74" fill="#0000FF" stroke="#151515" stroke-width="1.05"/><line x1="459.15" y1="342.88" x2="476.25" y2="342.88" stroke="#000" stroke-width="2.8"/><circle cx="467.7" cy="279.74" r="1.0" fill="#b4b4b4" stroke="#222" stroke-width="0.8"/><circle cx="467.7" cy="314.88" r="1.0" fill="#b4b4b4" stroke="#222" stroke-width="0.8"/><circle cx="467.7" cy="317.12" r="1.0" fill="#b4b4b4" stroke="#222" stroke-width="0.8"/>
<line x1="484.8" y1="333.08" x2="484.8" y2="319.08" stroke="#151515" stroke-width="1.05" stroke-dasharray="4.8 1.6"/><line x1="480.01" y1="319.08" x2="489.59" y2="319.08" stroke="#151515" stroke-width="1.05"/><line x1="484.8" y1="347.08" x2="484.8" y2="367.52" stroke="#151515" stroke-width="1.05" stroke-dasharray="4.8 1.6"/><line x1="480.01" y1="367.52" x2="489.59" y2="367.52" stroke="#151515" stroke-width="1.05"/><rect x="476.25" y="333.08" width="17.1" height="14" fill="#00FFFF" stroke="#151515" stroke-width="1.05"/><line x1="476.25" y1="341.48" x2="493.35" y2="341.48" stroke="#000" stroke-width="2.8"/><circle cx="484.8" cy="306.06" r="1.25" fill="#222" stroke="#222" stroke-width="0.8"/><circle cx="484.8" cy="308.58" r="1.0" fill="#b4b4b4" stroke="#222" stroke-width="0.8"/><circle cx="484.8" cy="375.78" r="1.0" fill="#b4b4b4" stroke="#222" stroke-width="0.8"/><circle cx="484.8" cy="378.72" r="1.0" fill="#b4b4b4" stroke="#222" stroke-width="0.8"/><circle cx="484.8" cy="386.56" r="1.0" fill="#b4b4b4" stroke="#222" stroke-width="0.8"/>
<line x1="501.9" y1="335.04" x2="501.9" y2="321.46" stroke="#151515" stroke-width="1.05" stroke-dasharray="4.8 1.6"/><line x1="497.11" y1="321.46" x2="506.69" y2="321.46" stroke="#151515" stroke-width="1.05"/><line x1="501.9" y1="344.42" x2="501.9" y2="356.46" stroke="#151515" stroke-width="1.05" stroke-dasharray="4.8 1.6"/><line x1="497.11" y1="356.46" x2="506.69" y2="356.46" stroke="#151515" stroke-width="1.05"/><rect x="493.35" y="335.04" width="17.1" height="9.38" fill="#FF00FF" stroke="#151515" stroke-width="1.05"/><line x1="493.35" y1="338.4" x2="510.45" y2="338.4" stroke="#000" stroke-width="2.8"/><circle cx="501.9" cy="317.12" r="1.25" fill="#222" stroke="#222" stroke-width="0.8"/><circle cx="501.9" cy="362.48" r="1.0" fill="#b4b4b4" stroke="#222" stroke-width="0.8"/><circle cx="501.9" cy="365" r="1.0" fill="#b4b4b4" stroke="#222" stroke-width="0.8"/>
<line x1="547.2" y1="337.7" x2="547.2" y2="326.36" stroke="#151515" stroke-width="1.05" stroke-dasharray="4.8 1.6"/><line x1="542.41" y1="326.36" x2="551.99" y2="326.36" stroke="#151515" stroke-width="1.05"/><line x1="547.2" y1="347.08" x2="547.2" y2="358.84" stroke="#151515" stroke-width="1.05" stroke-dasharray="4.8 1.6"/><line x1="542.41" y1="358.84" x2="551.99" y2="358.84" stroke="#151515" stroke-width="1.05"/><rect x="538.65" y="337.7" width="17.1" height="9.38" fill="#FF0000" stroke="#151515" stroke-width="1.05"/><line x1="538.65" y1="341.9" x2="555.75" y2="341.9" stroke="#000" stroke-width="2.8"/><circle cx="547.2" cy="311.1" r="1.0" fill="#b4b4b4" stroke="#222" stroke-width="0.8"/><circle cx="547.2" cy="319.36" r="1.0" fill="#b4b4b4" stroke="#222" stroke-width="0.8"/><circle cx="547.2" cy="321.6" r="1.25" fill="#222" stroke="#222" stroke-width="0.8"/><circle cx="547.2" cy="364.44" r="1.0" fill="#b4b4b4" stroke="#222" stroke-width="0.8"/><circle cx="547.2" cy="369.62" r="1.0" fill="#b4b4b4" stroke="#222" stroke-width="0.8"/>
<line x1="564.3" y1="333.08" x2="564.3" y2="319.36" stroke="#151515" stroke-width="1.05" stroke-dasharray="4.8 1.6"/><line x1="559.51" y1="319.36" x2="569.09" y2="319.36" stroke="#151515" stroke-width="1.05"/><line x1="564.3" y1="343.16" x2="564.3" y2="356.88" stroke="#151515" stroke-width="1.05" stroke-dasharray="4.8 1.6"/><line x1="559.51" y1="356.88" x2="569.09" y2="356.88" stroke="#151515" stroke-width="1.05"/><rect x="555.75" y="333.08" width="17.1" height="10.08" fill="#00CD00" stroke="#151515" stroke-width="1.05"/><line x1="555.75" y1="338.4" x2="572.85" y2="338.4" stroke="#000" stroke-width="2.8"/><circle cx="564.3" cy="309.42" r="1.0" fill="#b4b4b4" stroke="#222" stroke-width="0.8"/><circle cx="564.3" cy="358.56" r="1.0" fill="#b4b4b4" stroke="#222" stroke-width="0.8"/><circle cx="564.3" cy="364.86" r="1.25" fill="#222" stroke="#222" stroke-width="0.8"/><circle cx="564.3" cy="372.7" r="1.25" fill="#222" stroke="#222" stroke-width="0.8"/><circle cx="564.3" cy="376.34" r="1.0" fill="#b4b4b4" stroke="#222" stroke-width="0.8"/>
<line x1="581.4" y1="329.86" x2="581.4" y2="319.36" stroke="#151515" stroke-width="1.05" stroke-dasharray="4.8 1.6"/><line x1="576.61" y1="319.36" x2="586.19" y2="319.36" stroke="#151515" stroke-width="1.05"/><line x1="581.4" y1="338.26" x2="581.4" y2="351.98" stroke="#151515" stroke-width="1.05" stroke-dasharray="4.8 1.6"/><line x1="576.61" y1="351.98" x2="586.19" y2="351.98" stroke="#151515" stroke-width="1.05"/><rect x="572.85" y="329.86" width="17.1" height="8.4" fill="#0000FF" stroke="#151515" stroke-width="1.05"/><line x1="572.85" y1="334.34" x2="589.95" y2="334.34" stroke="#000" stroke-width="2.8"/><circle cx="581.4" cy="297.38" r="1.0" fill="#b4b4b4" stroke="#222" stroke-width="0.8"/><circle cx="581.4" cy="314.88" r="1.0" fill="#b4b4b4" stroke="#222" stroke-width="0.8"/><circle cx="581.4" cy="353.38" r="1.0" fill="#b4b4b4" stroke="#222" stroke-width="0.8"/>
<line x1="598.5" y1="336.02" x2="598.5" y2="324.96" stroke="#151515" stroke-width="1.05" stroke-dasharray="4.8 1.6"/><line x1="593.71" y1="324.96" x2="603.29" y2="324.96" stroke="#151515" stroke-width="1.05"/><line x1="598.5" y1="345.54" x2="598.5" y2="358.56" stroke="#151515" stroke-width="1.05" stroke-dasharray="4.8 1.6"/><line x1="593.71" y1="358.56" x2="603.29" y2="358.56" stroke="#151515" stroke-width="1.05"/><rect x="589.95" y="336.02" width="17.1" height="9.52" fill="#00FFFF" stroke="#151515" stroke-width="1.05"/><line x1="589.95" y1="341.48" x2="607.05" y2="341.48" stroke="#000" stroke-width="2.8"/><circle cx="598.5" cy="317.4" r="1.0" fill="#b4b4b4" stroke="#222" stroke-width="0.8"/><circle cx="598.5" cy="361.36" r="1.0" fill="#b4b4b4" stroke="#222" stroke-width="0.8"/><circle cx="598.5" cy="367.94" r="1.0" fill="#b4b4b4" stroke="#222" stroke-width="0.8"/><circle cx="598.5" cy="382.78" r="1.0" fill="#b4b4b4" stroke="#222" stroke-width="0.8"/>
<line x1="615.6" y1="333.08" x2="615.6" y2="321.46" stroke="#151515" stroke-width="1.05" stroke-dasharray="4.8 1.6"/><line x1="610.81" y1="321.46" x2="620.39" y2="321.46" stroke="#151515" stroke-width="1.05"/><line x1="615.6" y1="343.16" x2="615.6" y2="356.88" stroke="#151515" stroke-width="1.05" stroke-dasharray="4.8 1.6"/><line x1="610.81" y1="356.88" x2="620.39" y2="356.88" stroke="#151515" stroke-width="1.05"/><rect x="607.05" y="333.08" width="17.1" height="10.08" fill="#FF00FF" stroke="#151515" stroke-width="1.05"/><line x1="607.05" y1="337.7" x2="624.15" y2="337.7" stroke="#000" stroke-width="2.8"/><circle cx="615.6" cy="311.52" r="1.25" fill="#222" stroke="#222" stroke-width="0.8"/><circle cx="615.6" cy="314.32" r="1.0" fill="#b4b4b4" stroke="#222" stroke-width="0.8"/><circle cx="615.6" cy="316.42" r="1.0" fill="#b4b4b4" stroke="#222" stroke-width="0.8"/><circle cx="615.6" cy="359.68" r="1.0" fill="#b4b4b4" stroke="#222" stroke-width="0.8"/><circle cx="615.6" cy="361.36" r="1.0" fill="#b4b4b4" stroke="#222" stroke-width="0.8"/>
</g>
<g stroke="#151515" stroke-width="1.05" fill="none">
<path d="M39.8 282.7 H45.8 V394.6 H39.8"/><line x1="39.8" y1="367.1" x2="45.8" y2="367.1"/><line x1="39.8" y1="338.6" x2="45.8" y2="338.6"/><line x1="39.8" y1="311.3" x2="45.8" y2="311.3"/><path d="M126.6 421 V414.8 H581.4 V421"/><line x1="240.3" y1="414.8" x2="240.3" y2="421"/><line x1="354" y1="414.8" x2="354" y2="421"/><line x1="467.7" y1="414.8" x2="467.7" y2="421"/>
</g>
<text transform="translate(31.6 395) rotate(-90)" text-anchor="middle" font-size="9.8">-4</text><text transform="translate(31.6 367.5) rotate(-90)" text-anchor="middle" font-size="9.8">-2</text><text transform="translate(31.6 339) rotate(-90)" text-anchor="middle" font-size="9.8">0</text><text transform="translate(31.6 311.7) rotate(-90)" text-anchor="middle" font-size="9.8">2</text><text transform="translate(31.6 283.1) rotate(-90)" text-anchor="middle" font-size="9.8">4</text>
<text transform="translate(8.9 339.6) rotate(-90)" text-anchor="middle" font-size="9.93">log2 fold change</text>
<text x="125.8" y="436.1" text-anchor="middle" font-size="9.6">ermB</text><text x="239.5" y="436.1" text-anchor="middle" font-size="9.6">ermF</text><text x="353.2" y="436.1" text-anchor="middle" font-size="9.6">tetM</text><text x="466.9" y="436.1" text-anchor="middle" font-size="9.6">tetO</text><text x="580.6" y="436.1" text-anchor="middle" font-size="9.6">tetW</text>
<rect x="633.75" y="316.6" width="7.5" height="4.3" fill="#FF0000" stroke="#222" stroke-width="0.8"/><text x="649.0" y="322.85" font-size="9.5">Farm 1</text><rect x="633.75" y="326.75" width="7.5" height="4.3" fill="#00CD00" stroke="#222" stroke-width="0.8"/><text x="649.0" y="332.97" font-size="9.5">Farm 2</text><rect x="633.75" y="336.9" width="7.5" height="4.3" fill="#0000FF" stroke="#222" stroke-width="0.8"/><text x="649.0" y="343.09" font-size="9.5">Farm 3</text><rect x="633.75" y="347.05" width="7.5" height="4.3" fill="#00FFFF" stroke="#222" stroke-width="0.8"/><text x="649.0" y="353.21" font-size="9.5">Farm 4</text><rect x="633.75" y="357.2" width="7.5" height="4.3" fill="#FF00FF" stroke="#222" stroke-width="0.8"/><text x="649.0" y="363.33" font-size="9.5">Farm 5</text>
</g>
<defs><clipPath id="c2"><rect x="45.8" y="497.83" width="644.2" height="151.9"/></clipPath></defs>
<g id="panel3">
<text x="364.7" y="479.45" text-anchor="middle" font-size="12.15" font-weight="bold" stroke="none">Change from T1 to T3</text>
<g stroke="#d2d2d2" stroke-width="1.2" stroke-dasharray="1.8 1.9" fill="none">
<line x1="47.8" y1="630" x2="685" y2="630"/><line x1="47.8" y1="601.9" x2="685" y2="601.9"/><line x1="47.8" y1="573.8" x2="685" y2="573.8"/><line x1="47.8" y1="546.4" x2="685" y2="546.4"/><line x1="47.8" y1="517.8" x2="685" y2="517.8"/><line x1="126.6" y1="501.03" x2="126.6" y2="649.73"/><line x1="240.3" y1="501.03" x2="240.3" y2="649.73"/><line x1="354" y1="501.03" x2="354" y2="649.73"/><line x1="467.7" y1="501.03" x2="467.7" y2="649.73"/><line x1="581.4" y1="501.03" x2="581.4" y2="649.73"/>
</g>
<g clip-path="url(#c2)">
<line x1="92.4" y1="575.81" x2="92.4" y2="547.53" stroke="#151515" stroke-width="1.05" stroke-dasharray="4.8 1.6"/><line x1="87.61" y1="547.53" x2="97.19" y2="547.53" stroke="#151515" stroke-width="1.05"/><line x1="92.4" y1="595.97" x2="92.4" y2="622.43" stroke="#151515" stroke-width="1.05" stroke-dasharray="4.8 1.6"/><line x1="87.61" y1="622.43" x2="97.19" y2="622.43" stroke="#151515" stroke-width="1.05"/><rect x="83.85" y="575.81" width="17.1" height="20.16" fill="#FF0000" stroke="#151515" stroke-width="1.05"/><line x1="83.85" y1="586.59" x2="100.95" y2="586.59" stroke="#000" stroke-width="2.8"/><circle cx="92.4" cy="520.79" r="1.0" fill="#b4b4b4" stroke="#222" stroke-width="0.8"/><circle cx="92.4" cy="537.45" r="1.0" fill="#b4b4b4" stroke="#222" stroke-width="0.8"/><circle cx="92.4" cy="628.17" r="1.0" fill="#b4b4b4" stroke="#222" stroke-width="0.8"/><circle cx="92.4" cy="633.77" r="1.0" fill="#b4b4b4" stroke="#222" stroke-width="0.8"/><circle cx="92.4" cy="641.19" r="1.0" fill="#b4b4b4" stroke="#222" stroke-width="0.8"/>
<line x1="109.5" y1="569.65" x2="109.5" y2="552.01" stroke="#151515" stroke-width="1.05" stroke-dasharray="4.8 1.6"/><line x1="104.71" y1="552.01" x2="114.29" y2="552.01" stroke="#151515" stroke-width="1.05"/><line x1="109.5" y1="582.25" x2="109.5" y2="597.93" stroke="#151515" stroke-width="1.05" stroke-dasharray="4.8 1.6"/><line x1="104.71" y1="597.93" x2="114.29" y2="597.93" stroke="#151515" stroke-width="1.05"/><rect x="100.95" y="569.65" width="17.1" height="12.6" fill="#00CD00" stroke="#151515" stroke-width="1.05"/><line x1="100.95" y1="576.79" x2="118.05" y2="576.79" stroke="#000" stroke-width="2.8"/><circle cx="109.5" cy="519.53" r="1.0" fill="#b4b4b4" stroke="#222" stroke-width="0.8"/><circle cx="109.5" cy="534.79" r="1.0" fill="#b4b4b4" stroke="#222" stroke-width="0.8"/><circle cx="109.5" cy="544.59" r="1.0" fill="#b4b4b4" stroke="#222" stroke-width="0.8"/><circle cx="109.5" cy="614.45" r="1.0" fill="#b4b4b4" stroke="#222" stroke-width="0.8"/><circle cx="109.5" cy="625.65" r="1.0" fill="#b4b4b4" stroke="#222" stroke-width="0.8"/>
<line x1="126.6" y1="571.33" x2="126.6" y2="555.65" stroke="#151515" stroke-width="1.05" stroke-dasharray="4.8 1.6"/><line x1="121.81" y1="555.65" x2="131.39" y2="555.65" stroke="#151515" stroke-width="1.05"/><line x1="126.6" y1="583.93" x2="126.6" y2="603.53" stroke="#151515" stroke-width="1.05" stroke-dasharray="4.8 1.6"/><line x1="121.81" y1="603.53" x2="131.39" y2="603.53" stroke="#151515" stroke-width="1.05"/><rect x="118.05" y="571.33" width="17.1" height="12.6" fill="#0000FF" stroke="#151515" stroke-width="1.05"/><line x1="118.05" y1="576.79" x2="135.15" y2="576.79" stroke="#000" stroke-width="2.8"/><circle cx="126.6" cy="544.59" r="1.0" fill="#b4b4b4" stroke="#222" stroke-width="0.8"/><circle cx="126.6" cy="608.29" r="1.25" fill="#222" stroke="#222" stroke-width="0.8"/><circle cx="126.6" cy="619.07" r="1.0" fill="#b4b4b4" stroke="#222" stroke-width="0.8"/><circle cx="126.6" cy="624.67" r="1.0" fill="#b4b4b4" stroke="#222" stroke-width="0.8"/>
<line x1="143.7" y1="579.73" x2="143.7" y2="538.99" stroke="#151515" stroke-width="1.05" stroke-dasharray="4.8 1.6"/><line x1="138.91" y1="538.99" x2="148.49" y2="538.99" stroke="#151515" stroke-width="1.05"/><line x1="143.7" y1="628.45" x2="143.7" y2="655.73" stroke="#151515" stroke-width="1.05" stroke-dasharray="4.8 1.6"/><rect x="135.15" y="579.73" width="17.1" height="48.72" fill="#00FFFF" stroke="#151515" stroke-width="1.05"/><line x1="135.15" y1="601.29" x2="152.25" y2="601.29" stroke="#000" stroke-width="2.8"/>
<line x1="160.8" y1="572.45" x2="160.8" y2="546.41" stroke="#151515" stroke-width="1.05" stroke-dasharray="4.8 1.6"/><line x1="156.01" y1="546.41" x2="165.59" y2="546.41" stroke="#151515" stroke-width="1.05"/><line x1="160.8" y1="590.51" x2="160.8" y2="613.61" stroke="#151515" stroke-width="1.05" stroke-dasharray="4.8 1.6"/><line x1="156.01" y1="613.61" x2="165.59" y2="613.61" stroke="#151515" stroke-width="1.05"/><rect x="152.25" y="572.45" width="17.1" height="18.06" fill="#FF00FF" stroke="#151515" stroke-width="1.05"/><line x1="152.25" y1="580.99" x2="169.35" y2="580.99" stroke="#000" stroke-width="2.8"/><circle cx="160.8" cy="532.97" r="1.0" fill="#b4b4b4" stroke="#222" stroke-width="0.8"/><circle cx="160.8" cy="536.05" r="1.0" fill="#b4b4b4" stroke="#222" stroke-width="0.8"/><circle cx="160.8" cy="538.99" r="1.0" fill="#b4b4b4" stroke="#222" stroke-width="0.8"/><circle cx="160.8" cy="632.79" r="1.0" fill="#b4b4b4" stroke="#222" stroke-width="0.8"/>
<line x1="206.1" y1="546.41" x2="206.1" y2="491.83" stroke="#151515" stroke-width="1.05" stroke-dasharray="4.8 1.6"/><line x1="206.1" y1="606.33" x2="206.1" y2="655.73" stroke="#151515" stroke-width="1.05" stroke-dasharray="4.8 1.6"/><rect x="197.55" y="546.41" width="17.1" height="59.92" fill="#FF0000" stroke="#151515" stroke-width="1.05"/><line x1="197.55" y1="574.83" x2="214.65" y2="574.83" stroke="#000" stroke-width="2.8"/>
<line x1="223.2" y1="552.29" x2="223.2" y2="504.83" stroke="#151515" stroke-width="1.05" stroke-dasharray="4.8 1.6"/><line x1="218.41" y1="504.83" x2="227.99" y2="504.83" stroke="#151515" stroke-width="1.05"/><line x1="223.2" y1="585.19" x2="223.2" y2="629.85" stroke="#151515" stroke-width="1.05" stroke-dasharray="4.8 1.6"/><line x1="218.41" y1="629.85" x2="227.99" y2="629.85" stroke="#151515" stroke-width="1.05"/><rect x="214.65" y="552.29" width="17.1" height="32.9" fill="#00CD00" stroke="#151515" stroke-width="1.05"/><line x1="214.65" y1="568.39" x2="231.75" y2="568.39" stroke="#000" stroke-width="2.8"/><circle cx="223.2" cy="499.37" r="1.0" fill="#b4b4b4" stroke="#222" stroke-width="0.8"/><circle cx="223.2" cy="638.67" r="1.0" fill="#b4b4b4" stroke="#222" stroke-width="0.8"/><circle cx="223.2" cy="643.57" r="1.0" fill="#b4b4b4" stroke="#222" stroke-width="0.8"/><circle cx="223.2" cy="645.53" r="1.0" fill="#b4b4b4" stroke="#222" stroke-width="0.8"/><circle cx="223.2" cy="648.05" r="1.0" fill="#b4b4b4" stroke="#222" stroke-width="0.8"/>
<line x1="240.3" y1="559.29" x2="240.3" y2="514.35" stroke="#151515" stroke-width="1.05" stroke-dasharray="4.8 1.6"/><line x1="235.51" y1="514.35" x2="245.09" y2="514.35" stroke="#151515" stroke-width="1.05"/><line x1="240.3" y1="594.99" x2="240.3" y2="648.47" stroke="#151515" stroke-width="1.05" stroke-dasharray="4.8 1.6"/><line x1="235.51" y1="648.47" x2="245.09" y2="648.47" stroke="#151515" stroke-width="1.05"/><rect x="231.75" y="559.29" width="17.1" height="35.7" fill="#0000FF" stroke="#151515" stroke-width="1.05"/><line x1="231.75" y1="575.81" x2="248.85" y2="575.81" stroke="#000" stroke-width="2.8"/>
<line x1="257.4" y1="552.01" x2="257.4" y2="491.83" stroke="#151515" stroke-width="1.05" stroke-dasharray="4.8 1.6"/><line x1="257.4" y1="601.29" x2="257.4" y2="655.73" stroke="#151515" stroke-width="1.05" stroke-dasharray="4.8 1.6"/><rect x="248.85" y="552.01" width="17.1" height="49.28" fill="#00FFFF" stroke="#151515" stroke-width="1.05"/><line x1="248.85" y1="574.83" x2="265.95" y2="574.83" stroke="#000" stroke-width="2.8"/>
<line x1="274.5" y1="547.53" x2="274.5" y2="491.83" stroke="#151515" stroke-width="1.05" stroke-dasharray="4.8 1.6"/><line x1="274.5" y1="594.99" x2="274.5" y2="655.73" stroke="#151515" stroke-width="1.05" stroke-dasharray="4.8 1.6"/><rect x="265.95" y="547.53" width="17.1" height="47.46" fill="#FF00FF" stroke="#151515" stroke-width="1.05"/><line x1="265.95" y1="572.17" x2="283.05" y2="572.17" stroke="#000" stroke-width="2.8"/>
<line x1="319.8" y1="555.65" x2="319.8" y2="515.33" stroke="#151515" stroke-width="1.05" stroke-dasharray="4.8 1.6"/><line x1="315.01" y1="515.33" x2="324.59" y2="515.33" stroke="#151515" stroke-width="1.05"/><line x1="319.8" y1="597.93" x2="319.8" y2="640.91" stroke="#151515" stroke-width="1.05" stroke-dasharray="4.8 1.6"/><line x1="315.01" y1="640.91" x2="324.59" y2="640.91" stroke="#151515" stroke-width="1.05"/><rect x="311.25" y="555.65" width="17.1" height="42.28" fill="#FF0000" stroke="#151515" stroke-width="1.05"/><line x1="311.25" y1="581.27" x2="328.35" y2="581.27" stroke="#000" stroke-width="2.8"/>
<line x1="336.9" y1="546.55" x2="336.9" y2="491.83" stroke="#151515" stroke-width="1.05" stroke-dasharray="4.8 1.6"/><line x1="336.9" y1="581.41" x2="336.9" y2="632.79" stroke="#151515" stroke-width="1.05" stroke-dasharray="4.8 1.6"/><line x1="332.11" y1="632.79" x2="341.69" y2="632.79" stroke="#151515" stroke-width="1.05"/><rect x="328.35" y="546.55" width="17.1" height="34.86" fill="#00CD00" stroke="#151515" stroke-width="1.05"/><line x1="328.35" y1="565.73" x2="345.45" y2="565.73" stroke="#000" stroke-width="2.8"/>
<rect x="345.45" y="558.59" width="17.1" height="36.68" fill="#0000FF" stroke="#151515" stroke-width="1.05"/><line x1="345.45" y1="577.07" x2="362.55" y2="577.07" stroke="#000" stroke-width="2.8"/>
<line x1="371.1" y1="564.05" x2="371.1" y2="510.01" stroke="#151515" stroke-width="1.05" stroke-dasharray="4.8 1.6"/><line x1="366.31" y1="510.01" x2="375.89" y2="510.01" stroke="#151515" stroke-width="1.05"/><line x1="371.1" y1="614.31" x2="371.1" y2="655.73" stroke="#151515" stroke-width="1.05" stroke-dasharray="4.8 1.6"/><rect x="362.55" y="564.05" width="17.1" height="50.26" fill="#00FFFF" stroke="#151515" stroke-width="1.05"/><line x1="362.55" y1="594.71" x2="379.65" y2="594.71" stroke="#000" stroke-width="2.8"/>
<line x1="388.2" y1="576.09" x2="388.2" y2="547.39" stroke="#151515" stroke-width="1.05" stroke-dasharray="4.8 1.6"/><line x1="383.41" y1="547.39" x2="392.99" y2="547.39" stroke="#151515" stroke-width="1.05"/><line x1="388.2" y1="601.29" x2="388.2" y2="638.39" stroke="#151515" stroke-width="1.05" stroke-dasharray="4.8 1.6"/><line x1="383.41" y1="638.39" x2="392.99" y2="638.39" stroke="#151515" stroke-width="1.05"/><rect x="379.65" y="576.09" width="17.1" height="25.2" fill="#FF00FF" stroke="#151515" stroke-width="1.05"/><line x1="379.65" y1="587.57" x2="396.75" y2="587.57" stroke="#000" stroke-width="2.8"/><circle cx="388.2" cy="517.85" r="1.0" fill="#b4b4b4" stroke="#222" stroke-width="0.8"/><circle cx="388.2" cy="641.33" r="1.0" fill="#b4b4b4" stroke="#222" stroke-width="0.8"/>
<line x1="433.5" y1="561.11" x2="433.5" y2="531.85" stroke="#151515" stroke-width="1.05" stroke-dasharray="4.8 1.6"/><line x1="428.71" y1="531.85" x2="438.29" y2="531.85" stroke="#151515" stroke-width="1.05"/><line x1="433.5" y1="581.27" x2="433.5" y2="603.53" stroke="#151515" stroke-width="1.05" stroke-dasharray="4.8 1.6"/><line x1="428.71" y1="603.53" x2="438.29" y2="603.53" stroke="#151515" stroke-width="1.05"/><rect x="424.95" y="561.11" width="17.1" height="20.16" fill="#FF0000" stroke="#151515" stroke-width="1.05"/><line x1="424.95" y1="572.17" x2="442.05" y2="572.17" stroke="#000" stroke-width="2.8"/><circle cx="433.5" cy="611.93" r="1.0" fill="#b4b4b4" stroke="#222" stroke-width="0.8"/>
<line x1="450.6" y1="566.99" x2="450.6" y2="549.49" stroke="#151515" stroke-width="1.05" stroke-dasharray="4.8 1.6"/><line x1="445.81" y1="549.49" x2="455.39" y2="549.49" stroke="#151515" stroke-width="1.05"/><line x1="450.6" y1="579.45" x2="450.6" y2="598.21" stroke="#151515" stroke-width="1.05" stroke-dasharray="4.8 1.6"/><line x1="445.81" y1="598.21" x2="455.39" y2="598.21" stroke="#151515" stroke-width="1.05"/><rect x="442.05" y="566.99" width="17.1" height="12.46" fill="#00CD00" stroke="#151515" stroke-width="1.05"/><line x1="442.05" y1="572.45" x2="459.15" y2="572.45" stroke="#000" stroke-width="2.8"/><circle cx="450.6" cy="599.61" r="1.0" fill="#b4b4b4" stroke="#222" stroke-width="0.8"/><circle cx="450.6" cy="601.57" r="1.0" fill="#b4b4b4" stroke="#222" stroke-width="0.8"/>
<line x1="467.7" y1="569.65" x2="467.7" y2="554.67" stroke="#151515" stroke-width="1.05" stroke-dasharray="4.8 1.6"/><line x1="462.91" y1="554.67" x2="472.49" y2="554.67" stroke="#151515" stroke-width="1.05"/><line x1="467.7" y1="583.93" x2="467.7" y2="597.93" stroke="#151515" stroke-width="1.05" stroke-dasharray="4.8 1.6"/><line x1="462.91" y1="597.93" x2="472.49" y2="597.93" stroke="#151515" stroke-width="1.05"/><rect x="459.15" y="569.65" width="17.1" height="14.28" fill="#0000FF" stroke="#151515" stroke-width="1.05"/><line x1="459.15" y1="577.49" x2="476.25" y2="577.49" stroke="#000" stroke-width="2.8"/>
<line x1="484.8" y1="563.35" x2="484.8" y2="539.41" stroke="#151515" stroke-width="1.05" stroke-dasharray="4.8 1.6"/><line x1="480.01" y1="539.41" x2="489.59" y2="539.41" stroke="#151515" stroke-width="1.05"/><line x1="484.8" y1="579.45" x2="484.8" y2="601.29" stroke="#151515" stroke-width="1.05" stroke-dasharray="4.8 1.6"/><line x1="480.01" y1="601.29" x2="489.59" y2="601.29" stroke="#151515" stroke-width="1.05"/><rect x="476.25" y="563.35" width="17.1" height="16.1" fill="#00FFFF" stroke="#151515" stroke-width="1.05"/><line x1="476.25" y1="572.17" x2="493.35" y2="572.17" stroke="#000" stroke-width="2.8"/><circle cx="484.8" cy="526.25" r="1.0" fill="#b4b4b4" stroke="#222" stroke-width="0.8"/><circle cx="484.8" cy="537.03" r="1.0" fill="#b4b4b4" stroke="#222" stroke-width="0.8"/><circle cx="484.8" cy="604.51" r="1.0" fill="#b4b4b4" stroke="#222" stroke-width="0.8"/>
<line x1="501.9" y1="563.35" x2="501.9" y2="546.41" stroke="#151515" stroke-width="1.05" stroke-dasharray="4.8 1.6"/><line x1="497.11" y1="546.41" x2="506.69" y2="546.41" stroke="#151515" stroke-width="1.05"/><line x1="501.9" y1="576.09" x2="501.9" y2="590.51" stroke="#151515" stroke-width="1.05" stroke-dasharray="4.8 1.6"/><line x1="497.11" y1="590.51" x2="506.69" y2="590.51" stroke="#151515" stroke-width="1.05"/><rect x="493.35" y="563.35" width="17.1" height="12.74" fill="#FF00FF" stroke="#151515" stroke-width="1.05"/><line x1="493.35" y1="569.23" x2="510.45" y2="569.23" stroke="#000" stroke-width="2.8"/><circle cx="501.9" cy="539.41" r="1.0" fill="#b4b4b4" stroke="#222" stroke-width="0.8"/><circle cx="501.9" cy="543.61" r="1.0" fill="#b4b4b4" stroke="#222" stroke-width="0.8"/>
<line x1="547.2" y1="566.71" x2="547.2" y2="552.99" stroke="#151515" stroke-width="1.05" stroke-dasharray="4.8 1.6"/><line x1="542.41" y1="552.99" x2="551.99" y2="552.99" stroke="#151515" stroke-width="1.05"/><line x1="547.2" y1="576.79" x2="547.2" y2="590.79" stroke="#151515" stroke-width="1.05" stroke-dasharray="4.8 1.6"/><line x1="542.41" y1="590.79" x2="551.99" y2="590.79" stroke="#151515" stroke-width="1.05"/><rect x="538.65" y="566.71" width="17.1" height="10.08" fill="#FF0000" stroke="#151515" stroke-width="1.05"/><line x1="538.65" y1="571.89" x2="555.75" y2="571.89" stroke="#000" stroke-width="2.8"/><circle cx="547.2" cy="547.11" r="1.0" fill="#b4b4b4" stroke="#222" stroke-width="0.8"/><circle cx="547.2" cy="549.07" r="1.0" fill="#b4b4b4" stroke="#222" stroke-width="0.8"/><circle cx="547.2" cy="551.03" r="1.0" fill="#b4b4b4" stroke="#222" stroke-width="0.8"/><circle cx="547.2" cy="598.91" r="1.0" fill="#b4b4b4" stroke="#222" stroke-width="0.8"/><circle cx="547.2" cy="600.87" r="1.0" fill="#b4b4b4" stroke="#222" stroke-width="0.8"/><circle cx="547.2" cy="606.47" r="1.0" fill="#b4b4b4" stroke="#222" stroke-width="0.8"/>
<line x1="564.3" y1="563.35" x2="564.3" y2="543.61" stroke="#151515" stroke-width="1.05" stroke-dasharray="4.8 1.6"/><line x1="559.51" y1="543.61" x2="569.09" y2="543.61" stroke="#151515" stroke-width="1.05"/><line x1="564.3" y1="576.79" x2="564.3" y2="593.45" stroke="#151515" stroke-width="1.05" stroke-dasharray="4.8 1.6"/><line x1="559.51" y1="593.45" x2="569.09" y2="593.45" stroke="#151515" stroke-width="1.05"/><rect x="555.75" y="563.35" width="17.1" height="13.44" fill="#00CD00" stroke="#151515" stroke-width="1.05"/><line x1="555.75" y1="571.19" x2="572.85" y2="571.19" stroke="#000" stroke-width="2.8"/><circle cx="564.3" cy="539.97" r="1.0" fill="#b4b4b4" stroke="#222" stroke-width="0.8"/><circle cx="564.3" cy="598.91" r="1.0" fill="#b4b4b4" stroke="#222" stroke-width="0.8"/><circle cx="564.3" cy="601.29" r="1.0" fill="#b4b4b4" stroke="#222" stroke-width="0.8"/><circle cx="564.3" cy="608.71" r="1.0" fill="#b4b4b4" stroke="#222" stroke-width="0.8"/>
<line x1="581.4" y1="562.09" x2="581.4" y2="546.41" stroke="#151515" stroke-width="1.05" stroke-dasharray="4.8 1.6"/><line x1="576.61" y1="546.41" x2="586.19" y2="546.41" stroke="#151515" stroke-width="1.05"/><line x1="581.4" y1="573.57" x2="581.4" y2="587.57" stroke="#151515" stroke-width="1.05" stroke-dasharray="4.8 1.6"/><line x1="576.61" y1="587.57" x2="586.19" y2="587.57" stroke="#151515" stroke-width="1.05"/><rect x="572.85" y="562.09" width="17.1" height="11.48" fill="#0000FF" stroke="#151515" stroke-width="1.05"/><line x1="572.85" y1="566.43" x2="589.95" y2="566.43" stroke="#000" stroke-width="2.8"/>
<line x1="598.5" y1="569.65" x2="598.5" y2="552.01" stroke="#151515" stroke-width="1.05" stroke-dasharray="4.8 1.6"/><line x1="593.71" y1="552.01" x2="603.29" y2="552.01" stroke="#151515" stroke-width="1.05"/><line x1="598.5" y1="582.39" x2="598.5" y2="600.87" stroke="#151515" stroke-width="1.05" stroke-dasharray="4.8 1.6"/><line x1="593.71" y1="600.87" x2="603.29" y2="600.87" stroke="#151515" stroke-width="1.05"/><rect x="589.95" y="569.65" width="17.1" height="12.74" fill="#00FFFF" stroke="#151515" stroke-width="1.05"/><line x1="589.95" y1="575.81" x2="607.05" y2="575.81" stroke="#000" stroke-width="2.8"/><circle cx="598.5" cy="606.47" r="1.0" fill="#b4b4b4" stroke="#222" stroke-width="0.8"/>
<line x1="615.6" y1="566.71" x2="615.6" y2="547.39" stroke="#151515" stroke-width="1.05" stroke-dasharray="4.8 1.6"/><line x1="610.81" y1="547.39" x2="620.39" y2="547.39" stroke="#151515" stroke-width="1.05"/><line x1="615.6" y1="579.45" x2="615.6" y2="597.93" stroke="#151515" stroke-width="1.05" stroke-dasharray="4.8 1.6"/><line x1="610.81" y1="597.93" x2="620.39" y2="597.93" stroke="#151515" stroke-width="1.05"/><rect x="607.05" y="566.71" width="17.1" height="12.74" fill="#FF00FF" stroke="#151515" stroke-width="1.05"/><line x1="607.05" y1="572.59" x2="624.15" y2="572.59" stroke="#000" stroke-width="2.8"/><circle cx="615.6" cy="539.27" r="1.0" fill="#b4b4b4" stroke="#222" stroke-width="0.8"/><circle cx="615.6" cy="541.37" r="1.0" fill="#b4b4b4" stroke="#222" stroke-width="0.8"/><circle cx="615.6" cy="607.73" r="1.0" fill="#b4b4b4" stroke="#222" stroke-width="0.8"/>
</g>
<g stroke="#151515" stroke-width="1.05" fill="none">
<path d="M39.8 517.8 H45.8 V630 H39.8"/><line x1="39.8" y1="601.9" x2="45.8" y2="601.9"/><line x1="39.8" y1="573.8" x2="45.8" y2="573.8"/><line x1="39.8" y1="546.4" x2="45.8" y2="546.4"/><path d="M126.6 655.3 V649.1 H581.4 V655.3"/><line x1="240.3" y1="649.1" x2="240.3" y2="655.3"/><line x1="354" y1="649.1" x2="354" y2="655.3"/><line x1="467.7" y1="649.1" x2="467.7" y2="655.3"/>
</g>
<text transform="translate(31.6 630.4) rotate(-90)" text-anchor="middle" font-size="9.8">-4</text><text transform="translate(31.6 602.3) rotate(-90)" text-anchor="middle" font-size="9.8">-2</text><text transform="translate(31.6 574.2) rotate(-90)" text-anchor="middle" font-size="9.8">0</text><text transform="translate(31.6 546.8) rotate(-90)" text-anchor="middle" font-size="9.8">2</text><text transform="translate(31.6 518.2) rotate(-90)" text-anchor="middle" font-size="9.8">4</text>
<text transform="translate(8.9 574.6) rotate(-90)" text-anchor="middle" font-size="9.93">log2 fold change</text>
<text x="125.8" y="670.8" text-anchor="middle" font-size="9.6">ermB</text><text x="239.5" y="670.8" text-anchor="middle" font-size="9.6">ermF</text><text x="353.2" y="670.8" text-anchor="middle" font-size="9.6">tetM</text><text x="466.9" y="670.8" text-anchor="middle" font-size="9.6">tetO</text><text x="580.6" y="670.8" text-anchor="middle" font-size="9.6">tetW</text>
<rect x="633.75" y="550.8" width="7.5" height="5.4" fill="#FF0000" stroke="#222" stroke-width="0.8"/><text x="649.0" y="557.85" font-size="9.5">Farm 1</text><rect x="633.75" y="560.95" width="7.5" height="5.4" fill="#00CD00" stroke="#222" stroke-width="0.8"/><text x="649.0" y="567.97" font-size="9.5">Farm 2</text><rect x="633.75" y="571.1" width="7.5" height="5.4" fill="#0000FF" stroke="#222" stroke-width="0.8"/><text x="649.0" y="578.09" font-size="9.5">Farm 3</text><rect x="633.75" y="581.25" width="7.5" height="5.4" fill="#00FFFF" stroke="#222" stroke-width="0.8"/><text x="649.0" y="588.21" font-size="9.5">Farm 4</text><rect x="633.75" y="591.4" width="7.5" height="5.4" fill="#FF00FF" stroke="#222" stroke-width="0.8"/><text x="649.0" y="598.33" font-size="9.5">Farm 5</text>
</g>
</g>
</svg>
</body></html>
